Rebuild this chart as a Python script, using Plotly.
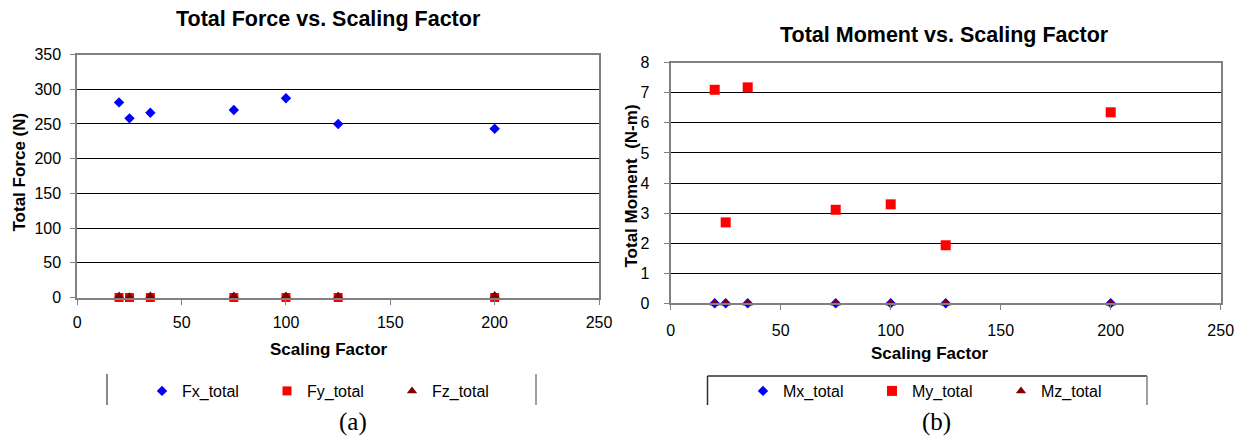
import plotly.graph_objects as go

W, H = 1243, 443

# ---- data ----
scaling = [20, 25, 35, 75, 100, 125, 200]
fx_total = [281, 258, 266, 270, 287, 250, 243]
fy_total = [0, 0, 0, 0, 0, 0, 0]
fz_total = [2, 1, 2, 2, 2, 2, 3]
mx_total = [0, 0, 0, 0, 0, 0, 0]
my_total = [7.10, 2.69, 7.18, 3.11, 3.29, 1.93, 6.35]
mz_total = [0, 0, 0, 0, 0, 0, 0]

x_ticks = [0, 50, 100, 150, 200, 250]
force_ticks = [0, 50, 100, 150, 200, 250, 300, 350]
moment_ticks = [0, 1, 2, 3, 4, 5, 6, 7, 8]

BLUE, RED, DARKRED = "#0000FF", "#FF0000", "#800000"
FONT = "Arial, Liberation Sans, sans-serif"
SERIF = "Times New Roman, Liberation Serif, serif"


def px(x):
    return x / W


def py(y):
    return 1 - y / H


fig = go.Figure()

series = [
    (fx_total, "Fx_total", "diamond", BLUE, 8, "x", "y", "legend"),
    (fy_total, "Fy_total", "square", RED, 9, "x", "y", "legend"),
    (fz_total, "Fz_total", "triangle-up", DARKRED, 9, "x", "y", "legend"),
    (mx_total, "Mx_total", "diamond", BLUE, 8, "x2", "y2", "legend2"),
    (my_total, "My_total", "square", RED, 10, "x2", "y2", "legend2"),
    (mz_total, "Mz_total", "triangle-up", DARKRED, 9, "x2", "y2", "legend2"),
]
for vals, name, sym, col, size, xa, ya, leg in series:
    fig.add_trace(go.Scatter(
        x=scaling, y=vals, name=name, mode="markers",
        marker=dict(symbol=sym, color=col, size=size, line=dict(width=0)),
        xaxis=xa, yaxis=ya, legend=leg, cliponaxis=False,
    ))

axis_common = dict(
    showline=True, linecolor="#808080", linewidth=2, mirror=True,
    ticks="outside", ticklen=5, tickcolor="#808080", tickwidth=1,
    tickfont=dict(family=FONT, size=16, color="#000000"),
    zeroline=False, automargin=False,
)

fig.update_layout(
    width=W, height=H, margin=dict(l=0, r=0, t=0, b=0, pad=0),
    paper_bgcolor="white", plot_bgcolor="white",
    xaxis=dict(domain=[px(77.3), px(599)], range=[0, 250], tickvals=x_ticks,
               showgrid=False, anchor="y", ticklabelstandoff=4, **axis_common),
    yaxis=dict(domain=[py(297.5), py(54.5)], range=[0, 350], tickvals=force_ticks,
               showgrid=True, gridcolor="#000000", gridwidth=1, anchor="x",
               ticklabelstandoff=6, **axis_common),
    xaxis2=dict(domain=[px(670.7), px(1220.7)], range=[0, 250], tickvals=x_ticks,
                showgrid=False, anchor="y2", ticklabelstandoff=6, **axis_common),
    yaxis2=dict(domain=[py(303.3), py(62.7)], range=[0, 8], tickvals=moment_ticks,
                showgrid=True, gridcolor="#000000", gridwidth=1, anchor="x2",
                ticklabelstandoff=11, **axis_common),
    legend=dict(orientation="h", x=px(142), y=py(391), xanchor="left", yanchor="middle",
                entrywidth=80, entrywidthmode="pixels", itemwidth=30,
                font=dict(family=FONT, size=16, color="black"),
                bgcolor="rgba(0,0,0,0)", borderwidth=0),
    legend2=dict(orientation="h", x=px(743), y=py(391), xanchor="left", yanchor="middle",
                 entrywidth=84, entrywidthmode="pixels", itemwidth=30,
                 font=dict(family=FONT, size=16, color="black"),
                 bgcolor="rgba(0,0,0,0)", borderwidth=0),
    showlegend=True,
)


def note(text, x, y, size, family=FONT, angle=0):
    fig.add_annotation(text=text, x=px(x), y=py(y), xref="paper", yref="paper",
                       xanchor="center", yanchor="middle", showarrow=False,
                       textangle=angle, font=dict(family=family, size=size, color="black"))


# Chart titles
note("<b>Total Force vs. Scaling Factor</b>", 328, 19, 21.5)
note("<b>Total Moment vs. Scaling Factor</b>", 944.5, 35, 21.5)
# Axis titles
note("<b>Scaling Factor</b>", 329, 349, 17)
note("<b>Total Force (N)</b>", 19, 172.5, 17, angle=-90)
note("<b>Scaling Factor</b>", 930, 353, 17)
note("<b>Total Moment  (N-m)</b>", 631, 186.5, 17, angle=-90)
# Panel labels
note("(a)", 353, 422, 25, family=SERIF)
note("(b)", 937, 422, 25, family=SERIF)

# Legend frame fragments (as in the reference)
lc = "#808080"
fig.add_shape(type="line", xref="paper", yref="paper", x0=px(107), x1=px(107),
              y0=py(374), y1=py(405), line=dict(color="#606060", width=1.5))
fig.add_shape(type="line", xref="paper", yref="paper", x0=px(536), x1=px(536),
              y0=py(374), y1=py(405), line=dict(color=lc, width=1.5))
fig.add_shape(type="line", xref="paper", yref="paper", x0=px(707.5), x1=px(1147),
              y0=py(376), y1=py(376), line=dict(color="#303030", width=1.5))
fig.add_shape(type="line", xref="paper", yref="paper", x0=px(707.5), x1=px(707.5),
              y0=py(376), y1=py(405), line=dict(color="#303030", width=1.5))
fig.add_shape(type="line", xref="paper", yref="paper", x0=px(1147), x1=px(1147),
              y0=py(376), y1=py(405), line=dict(color=lc, width=1.5))

# remove the default page margin so the 1243x443 figure fits the window exactly
fig.write_html("out.html",
               config={"displayModeBar": False},
               post_script="document.body.style.margin='0';document.body.style.overflow='hidden';")
